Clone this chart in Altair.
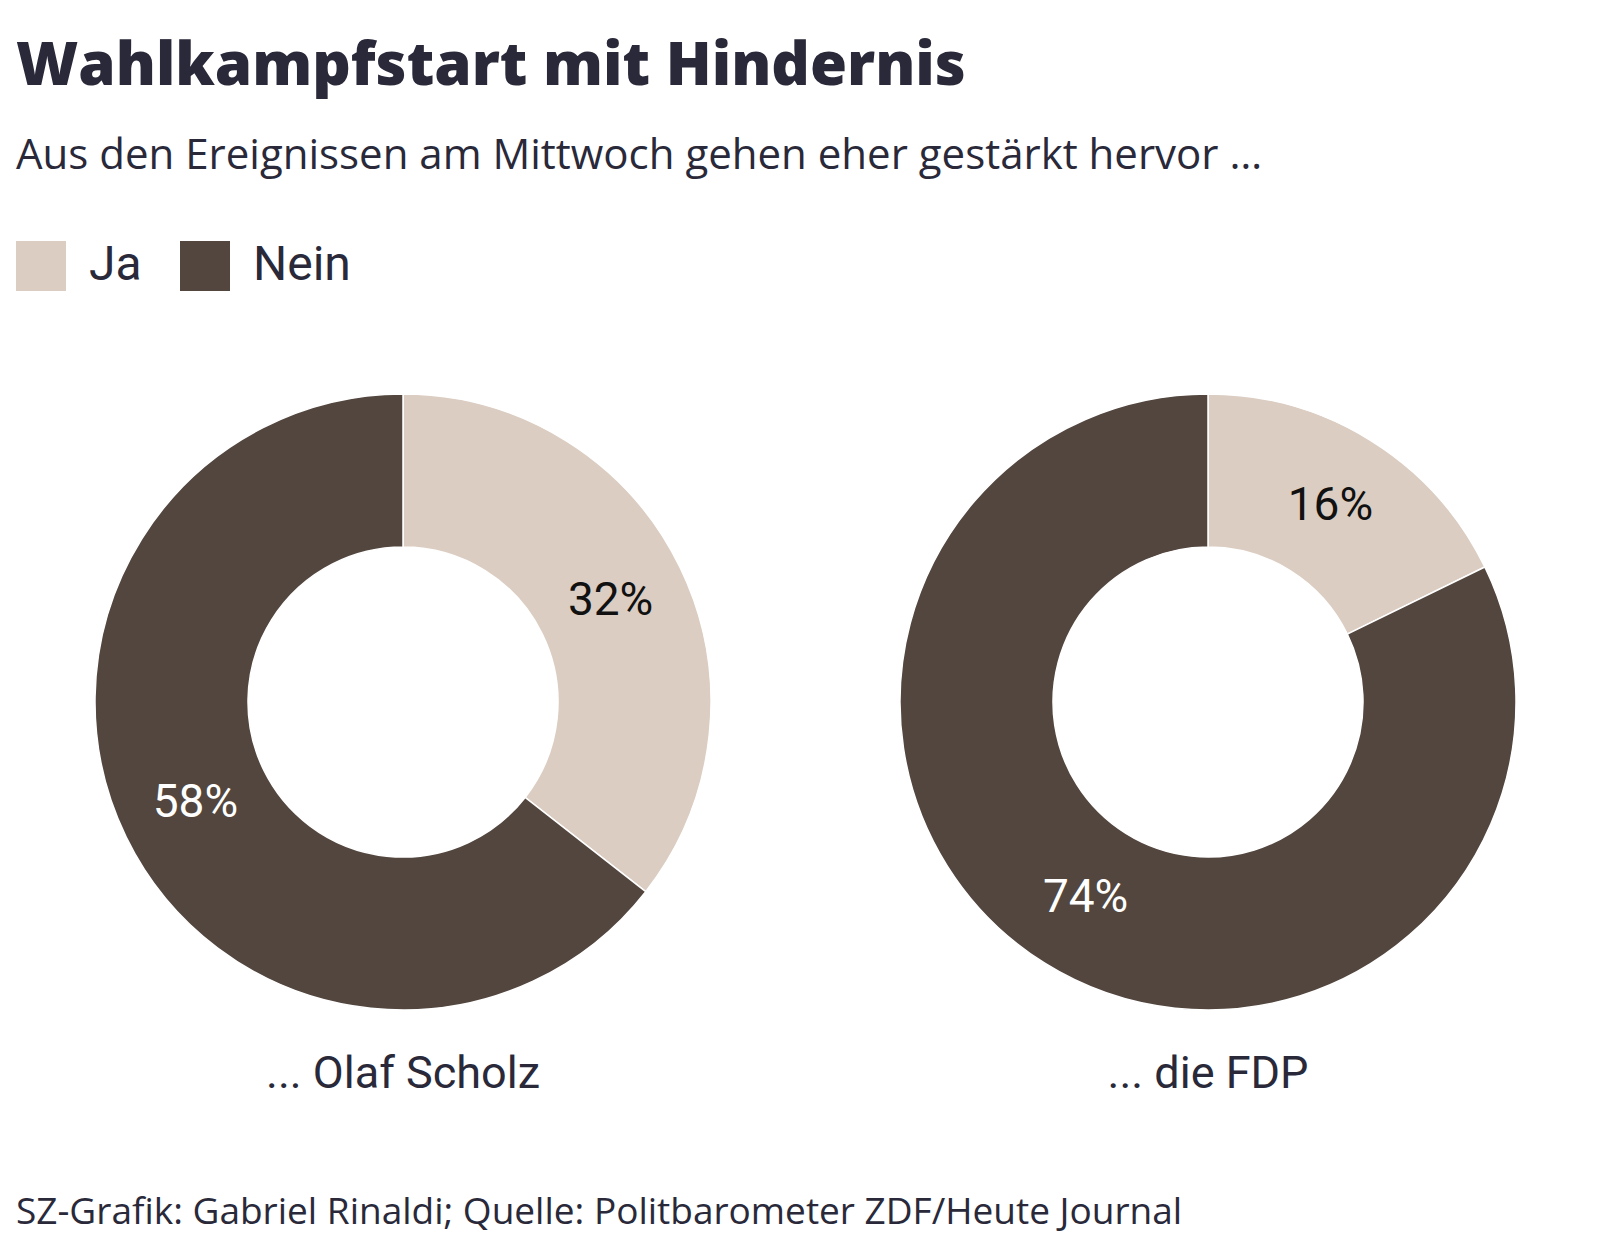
import altair as alt
import pandas as pd

# --- data ---
persons = ["... Olaf Scholz", "... die FDP"]
answers = ["Ja", "Nein"]
ja_values = [32, 16]
nein_values = [58, 74]

title_text = "Wahlkampfstart mit Hindernis"
subtitle_text = "Aus den Ereignissen am Mittwoch gehen eher gestärkt hervor …"
footer_text = "SZ-Grafik: Gabriel Rinaldi; Quelle: Politbarometer ZDF/Heute Journal"

rows = []
for p, j, n in zip(persons, ja_values, nein_values):
    rows.append({"person": p, "answer": answers[0], "value": j, "ord": 0, "label": f"{j}%"})
    rows.append({"person": p, "answer": answers[1], "value": n, "ord": 1, "label": f"{n}%"})
df = pd.DataFrame(rows)

TEXT = "#29293a"
JA = "#dbcdc2"
NEIN = "#52463e"
COND = "Roboto"
SANS = "Open Sans"

color = alt.Color(
    "answer:N",
    scale=alt.Scale(domain=answers, range=[JA, NEIN]),
    legend=alt.Legend(
        title=None,
        orient="none",
        legendX=-47,
        legendY=-141,
        direction="horizontal",
        symbolType="square",
        symbolSize=2500,
        symbolStrokeWidth=0,
        labelFontSize=48,
        labelFont=COND,
        labelColor=TEXT,
        labelOffset=23,
        columnPadding=38,
    ),
)

base = alt.Chart().encode(
    theta=alt.Theta("value:Q", stack=True),
    order=alt.Order("ord:Q"),
)

arcs = base.mark_arc(outerRadius=308, innerRadius=155, stroke="white", strokeWidth=1.5).encode(
    color=color
)

labels = base.mark_text(radius=231, fontSize=46, font=COND).encode(
    text="label:N",
    color=alt.condition(alt.datum.answer == "Ja", alt.value("#111111"), alt.value("white")),
)

inner = (
    alt.layer(arcs, labels, data=df)
    .properties(width=680, height=640)
    .facet(
        column=alt.Column(
            "person:N",
            sort=persons,
            title=None,
            header=alt.Header(
                labelOrient="bottom",
                labelFontSize=45,
                labelFont=COND,
                labelColor=TEXT,
                labelPadding=30,
            ),
        ),
        spacing=125,
    )
    .properties(
        title=alt.TitleParams(
            text=title_text,
            subtitle=subtitle_text,
            anchor="start",
            dx=-47,
            fontSize=60,
            font=SANS,
            fontWeight=800,
            color=TEXT,
            subtitleFontSize=42,
            subtitleFont=SANS,
            subtitleColor=TEXT,
            subtitlePadding=38,
            offset=204,
        )
    )
)

chart = (
    alt.vconcat(inner)
    .properties(
        title=alt.TitleParams(
            text=footer_text,
            orient="bottom",
            anchor="start",
            fontSize=37,
            font=SANS,
            fontWeight="normal",
            color=TEXT,
            offset=98,
        ),
        padding={"left": 16, "top": 37, "right": 0, "bottom": 20},
    )
    .configure_view(stroke=None)
    .configure(background="white")
)

chart.save("out.html", embed_options={"renderer": "svg", "actions": False})
